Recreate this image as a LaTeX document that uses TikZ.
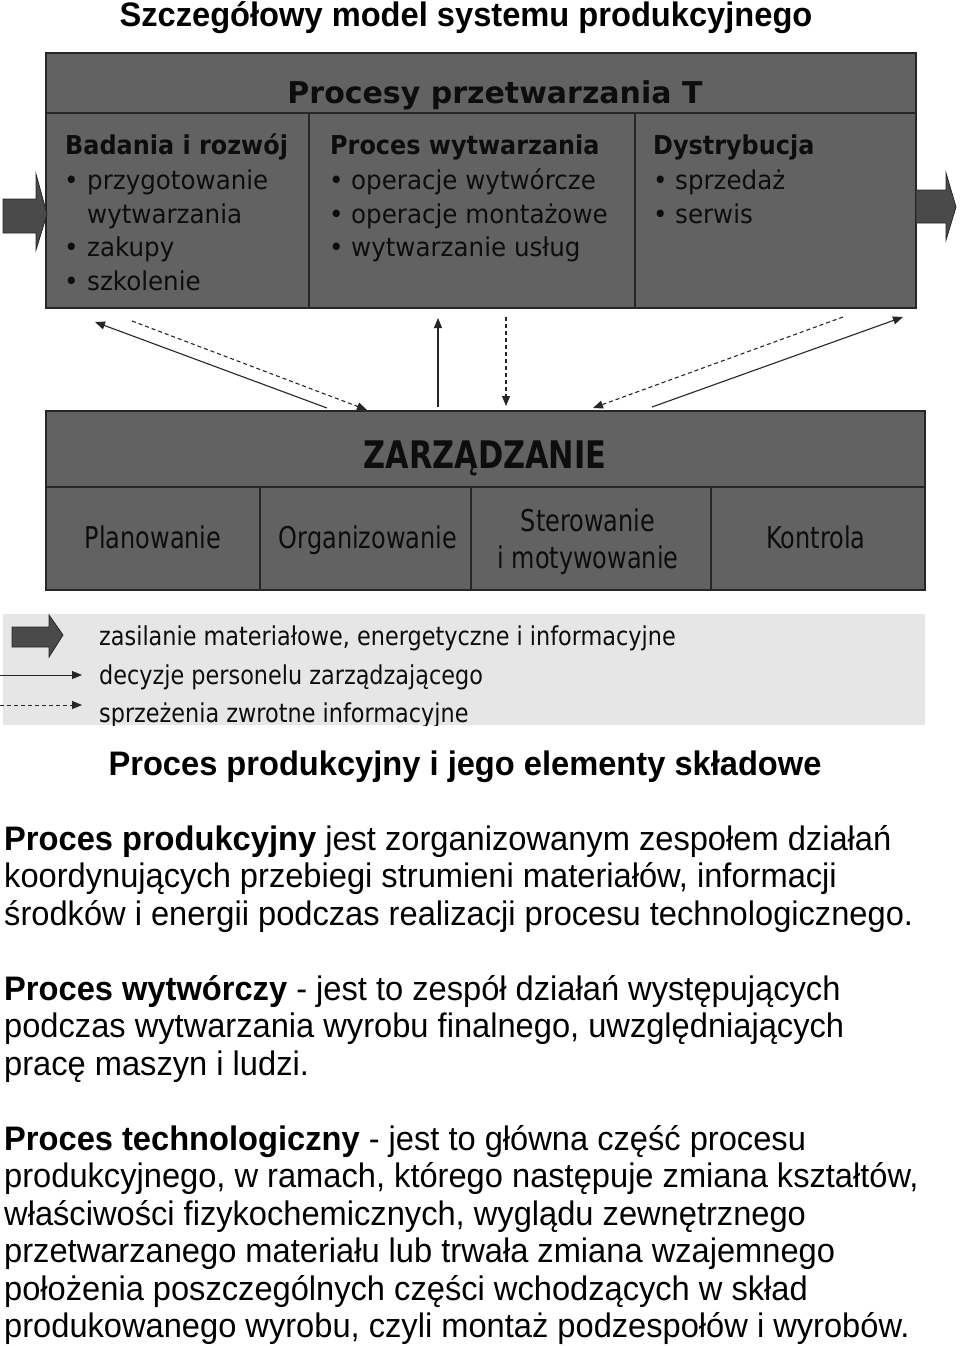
\documentclass[tikz,border=0pt]{standalone}
\usepackage{fontspec}
\setmainfont[FakeStretch=0.96]{Liberation Sans}
\newfontfamily\djv{DejaVu Sans}
\newfontfamily\djvh[FakeStretch=0.92]{DejaVu Sans}
\newfontfamily\djvi[FakeStretch=0.945]{DejaVu Sans}
\newfontfamily\djvc[FakeStretch=0.8]{DejaVu Sans}
\newfontfamily\djvl[FakeStretch=0.86]{DejaVu Sans}
\usetikzlibrary{arrows.meta}
\definecolor{boxgray}{HTML}{626262}
\definecolor{arrgray}{HTML}{4A4A4A}
\definecolor{leggray}{HTML}{E6E6E6}
\definecolor{linegray}{HTML}{262626}
\begin{document}
\begin{tikzpicture}[x=1pt,y=-1pt,
  boxfill/.style={fill=boxgray,draw=linegray,line width=1.5pt},
  sepline/.style={draw=linegray,line width=1.5pt},
  blockarrow/.style={fill=arrgray,draw=black!85,line width=0.8pt},
  decis/.style={draw=linegray,line width=1.1pt,-{Triangle[length=10pt,width=8pt]}},
  feedb/.style={decis,dash pattern=on 4pt off 3pt},
  ttl/.style={font=\bfseries\fontsize{34}{38}\selectfont,inner sep=0pt,anchor=base},
  para/.style={font=\fontsize{34}{38}\selectfont,inner sep=0pt,anchor=base west},
  thd/.style={font=\djv\bfseries\fontsize{30}{34}\selectfont,inner sep=0pt,anchor=base,text=black!95},
  hdr/.style={font=\djvh\bfseries\fontsize{26}{30}\selectfont,inner sep=0pt,anchor=base west,text=black!95},
  itm/.style={font=\djvi\fontsize{26}{30}\selectfont,inner sep=0pt,anchor=base west,text=black!95},
  zhd/.style={font=\djvc\bfseries\fontsize{38}{42}\selectfont,inner sep=0pt,anchor=base,text=black!95},
  zit/.style={font=\djvc\fontsize{30}{36}\selectfont,inner sep=0pt,anchor=base,text=black!95},
  leg/.style={font=\djvl\fontsize{26}{30}\selectfont,inner sep=0pt,anchor=base west,text=black!95}
]
\useasboundingbox (0,0) rectangle (960,1346);
\fill[white] (0,0) rectangle (960,1346);

% title
\node[ttl] (title) at (466,27) {Szczegółowy model systemu produkcyjnego};

% top box
\draw[boxfill] (46,53) rectangle (916,308);
\draw[sepline] (46,113) -- (916,113);
\draw[sepline] (309,113) -- (309,308);
\draw[sepline] (635,113) -- (635,308);
\node[thd] (thead) at (495,103) {Procesy przetwarzania T};

\node[hdr] (c1h) at (65,154) {Badania i rozwój};
\node[itm] (c1b1) at (64,189) {•};
\node[itm] (c1t1) at (87,189) {przygotowanie};
\node[itm] (c1t1b) at (87,223) {wytwarzania};
\node[itm] (c1b2) at (64,256) {•};
\node[itm] (c1t2) at (87,256) {zakupy};
\node[itm] (c1b3) at (64,290) {•};
\node[itm] (c1t3) at (87,290) {szkolenie};

\node[hdr] (c2h) at (330,154) {Proces wytwarzania};
\node[itm] (c2b1) at (329,189) {•};
\node[itm] (c2t1) at (351,189) {operacje wytwórcze};
\node[itm] (c2b2) at (329,223) {•};
\node[itm] (c2t2) at (351,223) {operacje montażowe};
\node[itm] (c2b3) at (329,256) {•};
\node[itm] (c2t3) at (351,256) {wytwarzanie usług};

\node[hdr] (c3h) at (653,154) {Dystrybucja};
\node[itm] (c3b1) at (653,189) {•};
\node[itm] (c3t1) at (675,189) {sprzedaż};
\node[itm] (c3b2) at (653,223) {•};
\node[itm] (c3t2) at (675,223) {serwis};

% block arrows in/out
\filldraw[blockarrow] (3,199) -- (36,199) -- (36,174) -- (47,214) -- (36,250) -- (36,233) -- (3,233) -- cycle;
\filldraw[blockarrow] (916,190) -- (946,190) -- (946,173) -- (956,207) -- (946,240) -- (946,223) -- (916,223) -- cycle;

% bottom box
\draw[boxfill] (46,411) rectangle (925,590);
\draw[sepline] (46,487) -- (925,487);
\draw[sepline] (260,487) -- (260,590);
\draw[sepline] (471,487) -- (471,590);
\draw[sepline] (711,487) -- (711,590);
\node[zhd] (zhead) at (485,468) {ZARZĄDZANIE};
\node[zit] (z1) at (153,548) {Planowanie};
\node[zit] (z2) at (368,548) {Organizowanie};
\node[zit] (z3a) at (588,531) {Sterowanie};
\node[zit] (z3b) at (588,568) {i motywowanie};
\node[zit] (z4) at (816,548) {Kontrola};

% connectors between boxes
\coordinate (a1) at (327,408); \coordinate (a2) at (95,322);
\coordinate (b1) at (132,321); \coordinate (b2) at (367,410);
\coordinate (c1) at (438,407); \coordinate (c2) at (438,318);
\coordinate (d1) at (506,317); \coordinate (d2) at (506,406);
\coordinate (e1) at (843,317); \coordinate (e2) at (593,408);
\coordinate (f1) at (652,407); \coordinate (f2) at (903,317);
\draw[decis] (a1) -- (a2);
\draw[feedb] (b1) -- (b2);
\draw[decis] (c1) -- (c2);
\draw[feedb] (d1) -- (d2);
\draw[feedb] (e1) -- (e2);
\draw[decis] (f1) -- (f2);

% legend
\fill[leggray] (3,614) rectangle (925,725);
\filldraw[blockarrow] (12,627) -- (49,627) -- (49,615) -- (63,635) -- (49,657) -- (49,647) -- (12,647) -- cycle;
\coordinate (l2a) at (0,675); \coordinate (l2b) at (82,675);
\coordinate (l3a) at (0,705); \coordinate (l3b) at (82,705);
\draw[decis,line width=0.9pt] (l2a) -- (l2b);
\draw[feedb,line width=0.9pt] (l3a) -- (l3b);
\node[leg] (lg1) at (99,645) {zasilanie materiałowe, energetyczne i informacyjne};
\node[leg] (lg2) at (99,684) {decyzje personelu zarządzającego};
\begin{scope}
\clip (0,600) rectangle (960,725);
\node[leg] (lg3) at (99,722) {sprzeżenia zwrotne informacyjne};
\end{scope}

% lower text
\node[ttl] (sub) at (465,775) {Proces produkcyjny i jego elementy składowe};

\node[para] (p1a) at (4,850) {\textbf{Proces produkcyjny} jest zorganizowanym zespołem działań};
\node[para] (p1b) at (4,887.5) {koordynujących przebiegi strumieni materiałów, informacji};
\node[para] (p1c) at (4,925) {środków i energii podczas realizacji procesu technologicznego.};

\node[para] (p2a) at (4,1000) {\textbf{Proces wytwórczy} - jest to zespół działań występujących};
\node[para] (p2b) at (4,1037.5) {podczas wytwarzania wyrobu finalnego, uwzględniających};
\node[para] (p2c) at (4,1075) {pracę maszyn i ludzi.};

\node[para] (p3a) at (4,1150) {\textbf{Proces technologiczny} - jest to główna część procesu};
\node[para] (p3b) at (4,1187.5) {produkcyjnego, w ramach, którego następuje zmiana kształtów,};
\node[para] (p3c) at (4,1225) {właściwości fizykochemicznych, wyglądu zewnętrznego};
\node[para] (p3d) at (4,1262.5) {przetwarzanego materiału lub trwała zmiana wzajemnego};
\node[para] (p3e) at (4,1300) {położenia poszczególnych części wchodzących w skład};
\node[para] (p3f) at (4,1337.5) {produkowanego wyrobu, czyli montaż podzespołów i wyrobów.};
\end{tikzpicture}
\end{document}
